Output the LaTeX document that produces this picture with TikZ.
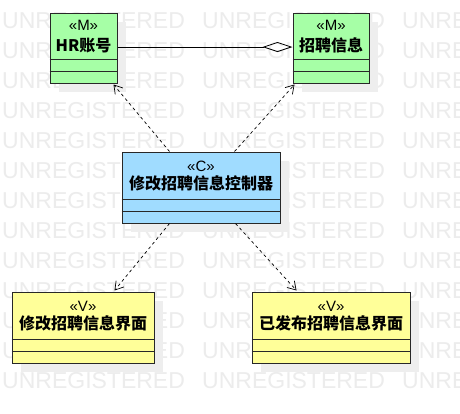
\documentclass[tikz,border=0pt]{standalone}
\usepackage{fontspec}
\setmainfont{Liberation Sans}
\newfontfamily\cjk{Noto Sans CJK SC}
\usetikzlibrary{arrows.meta,calc}
\definecolor{mgreen}{RGB}{166,255,166}
\definecolor{cblue}{RGB}{160,220,255}
\definecolor{vyellow}{RGB}{255,255,153}
\definecolor{wmgray}{RGB}{236,236,236}
\definecolor{shadowgray}{RGB}{238,238,238}
\definecolor{edge}{RGB}{40,40,40}
\tikzset{
  classbox/.style={draw=edge, line width=1pt, minimum height=70pt, inner sep=0pt},
  stereo/.style={font=\fontsize{15}{15}\selectfont, inner sep=0pt},
  cname/.style={font=\cjk\bfseries\fontsize{16}{16}\selectfont, inner sep=0pt},
  wmark/.style={font=\fontsize{23}{23}\selectfont, text=wmgray, inner sep=0pt, anchor=base west},
  dep/.style={draw=black, line width=0.7pt, dash pattern=on 3pt off 3pt, -{Straight Barb[length=8pt,width=10pt,line width=0.7pt]}},
  agg/.style={draw=black, line width=0.8pt, -{Diamond[open,length=30pt,width=10pt,line width=0.8pt]}},
  sep/.style={draw=edge, line width=1pt},
}
\begin{document}
\begin{tikzpicture}[x=1pt,y=-1pt]
\useasboundingbox (0,0) rectangle (460,413);
\fill[white] (0,0) rectangle (460,413);
% watermark
\foreach \r in {0,...,12}{
  \node[wmark] (wm-\r-a) at (2,{28+30*\r}) {UNREGISTERED};
  \node[wmark] (wm-\r-b) at (202,{28+30*\r}) {UNREGISTERED};
  \node[wmark] (wm-\r-c) at (402,{28+30*\r}) {UNRE};
}
% shadows
\foreach \xa/\ya/\xb/\yb in {50/13/117/83, 293/13/369/83, 122/152/280/223, 12/292/154/363, 252/292/410/363}{
  \fill[shadowgray] ({\xa+9},{\ya+9}) rectangle ({\xb+9},{\yb+9});
}
% classes
\node[classbox, fill=mgreen, minimum width=67pt] (hr) at (83.5,48) {};
\node[classbox, fill=mgreen, minimum width=76pt] (zp) at (331,48) {};
\node[classbox, fill=cblue, minimum width=158pt, minimum height=71pt] (ctl) at (201,187.5) {};
\node[classbox, fill=vyellow, minimum width=142pt, minimum height=71pt] (v1) at (83,327.5) {};
\node[classbox, fill=vyellow, minimum width=158pt, minimum height=71pt] (v2) at (331,327.5) {};
% compartments
\foreach \n in {hr,zp}{
  \draw[sep] ($(\n.north west)+(0,47)$) -- ($(\n.north east)+(0,47)$);
  \draw[sep] ($(\n.north west)+(0,59)$) -- ($(\n.north east)+(0,59)$);
}
\foreach \n in {ctl,v1,v2}{
  \draw[sep] ($(\n.north west)+(0,48)$) -- ($(\n.north east)+(0,48)$);
  \draw[sep] ($(\n.north west)+(0,60)$) -- ($(\n.north east)+(0,60)$);
}
% texts
\node[stereo] (hr-s) at ($(hr.north)+(0,13)$) {«M»};
\node[cname] (hr-n) at ($(hr.north)+(0,33)$) {HR账号};
\node[stereo] (zp-s) at ($(zp.north)+(0,13)$) {«M»};
\node[cname] (zp-n) at ($(zp.north)+(0,33)$) {招聘信息};
\node[stereo] (ctl-s) at ($(ctl.north)+(0,15)$) {«C»};
\node[cname] (ctl-n) at ($(ctl.north)+(0,32)$) {修改招聘信息控制器};
\node[stereo] (v1-s) at ($(v1.north)+(0,15)$) {«V»};
\node[cname] (v1-n) at ($(v1.north)+(0,32)$) {修改招聘信息界面};
\node[stereo] (v2-s) at ($(v2.north)+(0,15)$) {«V»};
\node[cname] (v2-n) at ($(v2.north)+(0,32)$) {已发布招聘信息界面};
% aggregation
\draw[agg] ($(hr.east)+(0,-1)$) -- ($(zp.west)+(0,-1)$);
% dependencies
\coordinate (c1) at ($(ctl.north west)+(48,0)$);
\coordinate (c2) at ($(ctl.north west)+(113,0)$);
\coordinate (c3) at ($(ctl.south west)+(48,0)$);
\coordinate (c4) at ($(ctl.south west)+(114,0)$);
\coordinate (t1) at ($(hr.south east)+(-4,1)$);
\coordinate (t2) at ($(zp.south west)+(2,1)$);
\coordinate (t3) at ($(v1.north west)+(103,-1)$);
\coordinate (t4) at ($(v2.north west)+(45,-1)$);
\draw[dep] (c1) -- (t1);
\draw[dep] (c2) -- (t2);
\draw[dep] (c3) -- (t3);
\draw[dep] (c4) -- (t4);
\end{tikzpicture}
\end{document}
